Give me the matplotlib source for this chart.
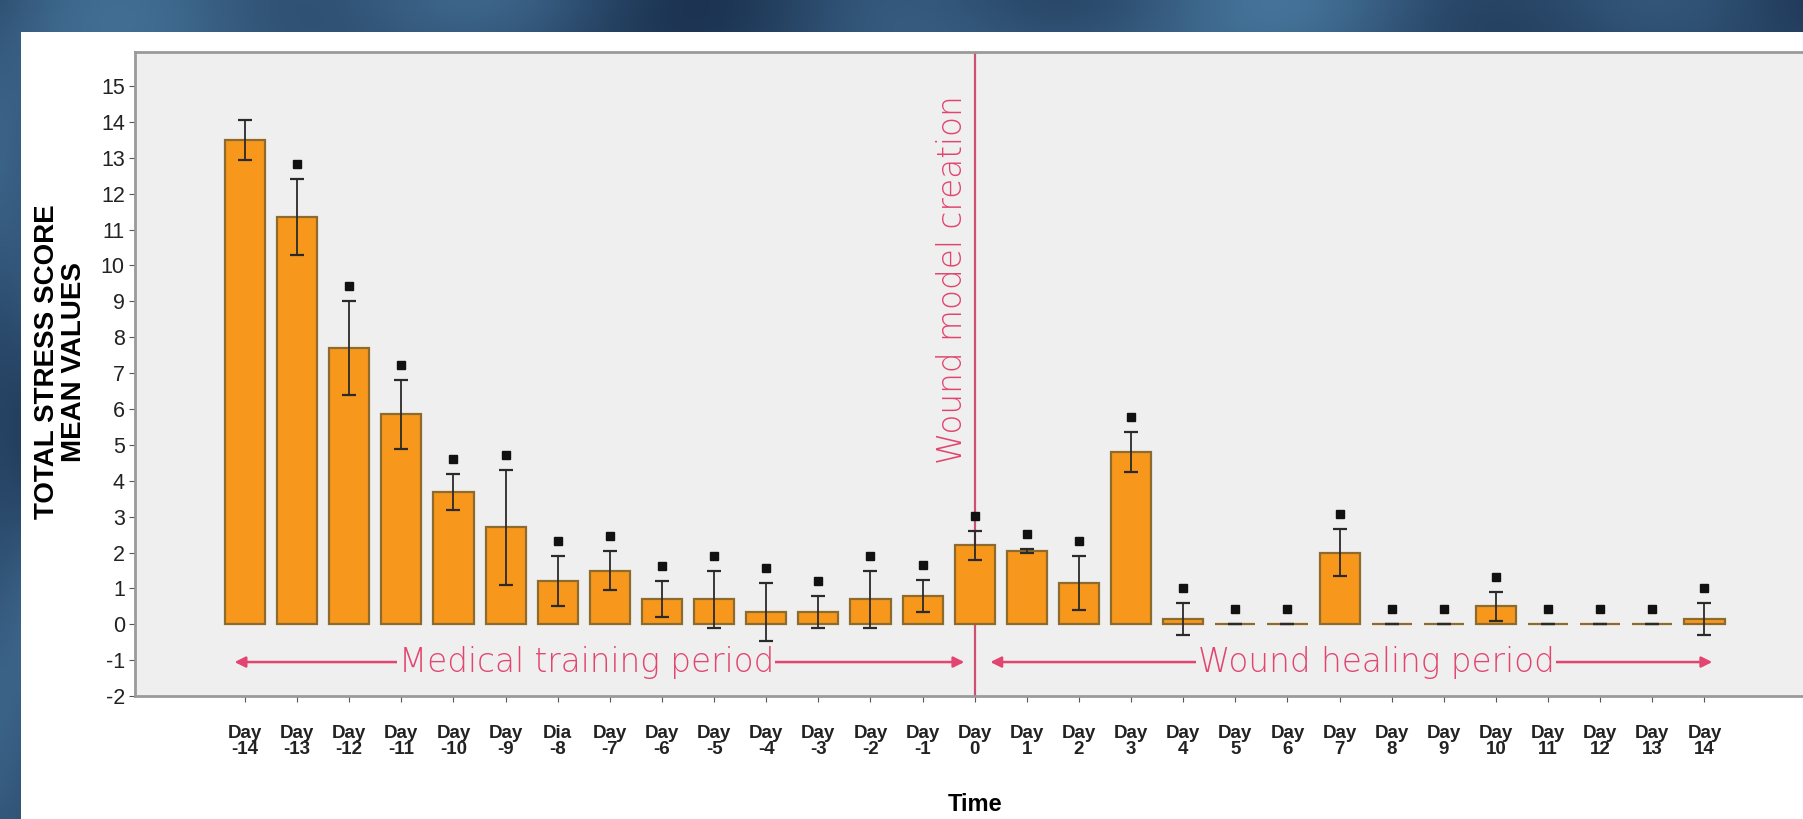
import matplotlib
matplotlib.use("Agg")
import matplotlib.pyplot as plt
from matplotlib.patches import Rectangle
import matplotlib.transforms as mtransforms
import numpy as np

# mean stress score per day, its error and which days are flagged significant
days = ["Day\n-14", "Day\n-13", "Day\n-12", "Day\n-11", "Day\n-10", "Day\n-9", "Dia\n-8",
        "Day\n-7", "Day\n-6", "Day\n-5", "Day\n-4", "Day\n-3", "Day\n-2", "Day\n-1",
        "Day\n0", "Day\n1", "Day\n2", "Day\n3", "Day\n4", "Day\n5", "Day\n6", "Day\n7",
        "Day\n8", "Day\n9", "Day\n10", "Day\n11", "Day\n12", "Day\n13", "Day\n14"]
means = [13.5, 11.35, 7.7, 5.85, 3.7, 2.7, 1.2, 1.5, 0.7, 0.7, 0.35, 0.35, 0.7, 0.8,
         2.2, 2.05, 1.15, 4.8, 0.15, 0.0, 0.0, 2.0, 0.0, 0.0, 0.5, 0.0, 0.0, 0.0, 0.15]
errors = [0.55, 1.05, 1.3, 0.95, 0.5, 1.6, 0.7, 0.55, 0.5, 0.8, 0.8, 0.45, 0.8, 0.45,
          0.4, 0.05, 0.75, 0.55, 0.45, 0.0, 0.0, 0.65, 0.0, 0.0, 0.4, 0.0, 0.0, 0.0, 0.45]
significant = [False] + [True] * 28
yticks = list(range(-2, 16))

BAR = "#f7981d"
EDGE = "#8c6b2c"
PINK = "#e2456f"
LINE = "#cf4f72"
PANEL = "#efefef"

plt.rcParams["font.family"] = ["Liberation Sans Narrow", "Liberation Sans", "DejaVu Sans"]

fig = plt.figure(figsize=(18.03, 8.19), dpi=100)

# textured blue backdrop behind the white sheet
bg = fig.add_axes([0, 0, 1, 1], zorder=-10)
yy, xx = np.mgrid[0:120, 0:260]
tex = 0.5 + 0.25 * np.sin(xx / 9.0) * np.cos(yy / 7.0) + 0.25 * np.sin(xx / 23.0 + yy / 13.0)
dark = np.array([0.11, 0.20, 0.32])
light = np.array([0.27, 0.45, 0.60])
bg.imshow(dark + tex[..., None] * (light - dark), aspect="auto", interpolation="bicubic",
          extent=[0, 1, 0, 1])
bg.set_axis_off()
fig.patches.append(Rectangle((21 / 1803, 0), 1, (819 - 32) / 819, transform=fig.transFigure,
                             facecolor="white", edgecolor="none", zorder=-5))

ax = fig.add_axes([0.0746, 0.150, 0.93, 0.787])
ax.set_facecolor(PANEL)
x = np.arange(len(days))

ax.bar(x, means, width=0.77, color=BAR, edgecolor=EDGE, linewidth=1.6, zorder=3)
ax.errorbar(x, means, yerr=errors, fmt="none", ecolor="#2a2a2a", elinewidth=1.3,
            capsize=5, capthick=1.6, zorder=4)

# significance markers sit a little above each error bar
tops = np.array(means) + np.array(errors)
sig_x = [xi for xi, s in zip(x, significant) if s]
sig_y = [ti for ti, s in zip(tops, significant) if s]
lift = mtransforms.offset_copy(ax.transData, fig=fig, x=0, y=15, units="dots")
ax.plot(sig_x, sig_y, "s", color="#111111", markersize=6, transform=lift, zorder=5)

# Day 0 marker with its caption
day0 = days.index("Day\n0")
ax.axvline(day0, color=LINE, linewidth=1.6, zorder=2)
ax.text(day0 - 0.42, 9.6, "Wound model creation", rotation=90, color=PINK,
        family="DejaVu Sans", fontweight="light", fontsize=23.5, ha="center", va="center",
        zorder=2)

# period arrows along the bottom
def period(ax, x0, x1, label, xc):
    ax.annotate("", xy=(x0, -1.05), xytext=(x1, -1.05),
                arrowprops=dict(arrowstyle="<|-|>", color=PINK, lw=1.8,
                                mutation_scale=16, shrinkA=0, shrinkB=0), zorder=2)
    ax.text(xc, -1.05, label, color=PINK, family="DejaVu Sans", fontweight="light",
            fontsize=23.5, ha="center", va="center", zorder=3,
            bbox=dict(facecolor=PANEL, edgecolor="none", pad=1))

period(ax, -0.2, 13.8, "Medical training period", 6.55)
period(ax, 14.3, 28.15, "Wound healing period", 21.7)

ax.set_xlim(-2.12, 30.05)
ax.set_ylim(-2, 15.96)
ax.set_yticks(yticks)
ax.set_yticklabels([str(t) for t in yticks], fontsize=15.5, color="#222222")
ax.set_xticks(x)
ax.set_xticklabels(days, fontsize=13.5, color="#222222", linespacing=0.9, fontweight="bold")
ax.tick_params(axis="both", direction="out", length=4, width=0.8, color="#555555", pad=3)
ax.tick_params(axis="x", pad=17)

for side in ["left", "bottom", "top"]:
    ax.spines[side].set_color("#9a9a9a")
    ax.spines[side].set_linewidth(2)
ax.spines["right"].set_visible(False)

fig.text(0.0335, 0.558, "TOTAL STRESS SCORE\nMEAN VALUES", rotation=90, ha="center",
         va="center", fontsize=20, fontweight="bold", family="Liberation Sans",
         linespacing=1.05, multialignment="center")
fig.text(0.541, 0.004, "Time", ha="center", va="bottom", fontsize=17, fontweight="bold",
         family="Liberation Sans")

fig.savefig("out.png", dpi=100)
